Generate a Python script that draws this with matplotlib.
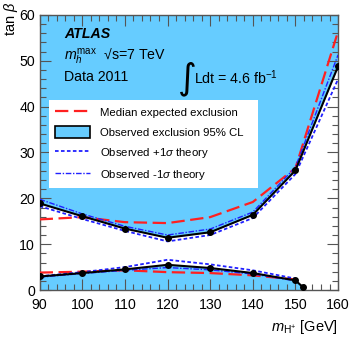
import matplotlib
matplotlib.use("Agg")
import matplotlib.pyplot as plt
from matplotlib.ticker import MultipleLocator
from matplotlib.patches import Patch
from matplotlib.lines import Line2D

plt.rcParams['font.family'] = ['Liberation Sans', 'DejaVu Sans']
plt.rcParams['mathtext.fontset'] = 'custom'
plt.rcParams['mathtext.rm'] = 'Liberation Sans'
plt.rcParams['mathtext.it'] = 'Liberation Sans:italic'

# masses
mass = [90, 100, 110, 120, 130, 140, 150, 160]
mass_low = [90, 100, 110, 120, 130, 140, 150, 151.8]
mass_low_band = [90, 100, 110, 120, 130, 140, 150]

# observed upper / lower boundary
obs_up = [18.9, 16.1, 13.4, 11.4, 12.6, 16.4, 26.1, 48.8]
obs_low = [2.95, 3.7, 4.5, 5.5, 4.8, 3.7, 2.1, 0.6]

# expected
exp_up = [15.4, 15.9, 14.8, 14.6, 15.9, 19.2, 26.6, 56.4]
exp_low = [3.8, 4.0, 4.3, 3.9, 3.7, 3.2, 2.3]

# observed +1 sigma theory (dotted)
p1_up = [18.3, 15.5, 12.9, 10.6, 12.0, 15.7, 25.3, 46.0]
p1_low = [3.0, 3.9, 5.0, 6.6, 5.6, 4.3, 2.5]

# observed -1 sigma theory (dash-dot)
m1_up = [19.8, 16.6, 13.9, 12.0, 13.3, 17.0, 26.8, 51.3]
m1_low = [2.8, 3.6, 4.3, 4.9, 4.4, 3.5, 2.0]

fill_c = '#66CCFF'

fig = plt.figure(figsize=(3.54, 3.40), dpi=100)
ax = fig.add_axes([0.112, 0.147, 0.843, 0.809])

ax.fill_between(mass, obs_up, 60, color=fill_c, lw=0, zorder=1)
ax.fill_between(mass_low, obs_low, 0, color=fill_c, lw=0, zorder=1)

ax.plot(mass, exp_up, color='#FF2020', ls=(0, (6, 2.5)), lw=1.6, zorder=3)
ax.plot(mass_low_band, exp_low, color='#FF2020', ls=(0, (6, 2.5)), lw=1.6, zorder=3)
ax.plot(mass, p1_up, color='#2020FF', ls=(0, (2, 1.3)), lw=1.3, zorder=3)
ax.plot(mass_low_band, p1_low, color='#2020FF', ls=(0, (2, 1.3)), lw=1.3, zorder=3)
ax.plot(mass, m1_up, color='#2020FF', ls=(0, (4, 1.2, 1, 1.2)), lw=1.0, zorder=3)
ax.plot(mass_low_band, m1_low, color='#2020FF', ls=(0, (4, 1.2, 1, 1.2)), lw=1.0, zorder=3)
ax.plot(mass, obs_up, color='black', lw=1.5, marker='o', ms=4, zorder=4)
ax.plot(mass_low, obs_low, color='black', lw=1.5, marker='o', ms=4, zorder=4)

ax.set_xlim(90, 160)
ax.set_ylim(0, 60)
ax.xaxis.set_major_locator(MultipleLocator(10))
ax.xaxis.set_minor_locator(MultipleLocator(2))
ax.yaxis.set_major_locator(MultipleLocator(10))
ax.yaxis.set_minor_locator(MultipleLocator(2))
ax.tick_params(which='both', direction='in', top=True, right=True, labelsize=10.2, color='#555555')
ax.tick_params(which='major', length=8, width=0.8)
ax.tick_params(which='minor', length=4, width=0.8)
ax.tick_params(axis='x', pad=6)
for s in ax.spines.values():
    s.set_color('#555555')
    s.set_linewidth(1.0)

ax.set_xlabel(r'$m_{\mathrm{H^{+}}}$ [GeV]', fontsize=10.5, loc='right', labelpad=4)
fig.text(0.006, 0.995, r'tan $\beta$', rotation=90, fontsize=10.5, ha='left', va='top')

ax.text(0.082, 0.931, 'ATLAS', transform=ax.transAxes, fontsize=10.2,
        fontweight='bold', fontstyle='italic', va='center')
ax.text(0.082, 0.847, r'$m_h^{\mathrm{max}}$  √s=7 TeV', transform=ax.transAxes,
        fontsize=10.2, va='center')
ax.text(0.082, 0.774, 'Data 2011', transform=ax.transAxes, fontsize=10.2, va='center')
ax.text(0.462, 0.77, '∫', transform=ax.transAxes, fontsize=26, va='center',
        family='DejaVu Sans')
ax.text(0.518, 0.772, r'Ldt = 4.6 fb$^{\mathregular{-1}}$', transform=ax.transAxes,
        fontsize=10.2, va='center')

handles = [
    Line2D([], [], color='#FF2020', ls=(0, (6, 2.5)), lw=1.6),
    Patch(facecolor=fill_c, edgecolor='black', lw=1.2),
    Line2D([], [], color='#2020FF', ls=(0, (2, 1.3)), lw=1.3),
    Line2D([], [], color='#2020FF', ls=(0, (4, 1.2, 1, 1.2)), lw=1.0),
]
labels = ['Median expected exclusion', 'Observed exclusion 95% CL',
          r'Observed +1$\sigma$ theory', r'Observed -1$\sigma$ theory']
x0 = (49 - 39.5) / 298.5
w = (258 - 49) / 298.5
ytop = (289.5 - 100) / 274.5
leg = ax.legend(handles, labels, loc='upper left', bbox_to_anchor=(x0, ytop - 0.2, w, 0.2),
                mode='expand', fontsize=8.2, frameon=True, fancybox=False, framealpha=1,
                edgecolor='white', handlelength=3.1, handleheight=1.3,
                labelspacing=0.68, borderpad=0.5, borderaxespad=0, handletextpad=0.9)
leg.get_frame().set_linewidth(0)

fig.savefig('out.png', dpi=100)
